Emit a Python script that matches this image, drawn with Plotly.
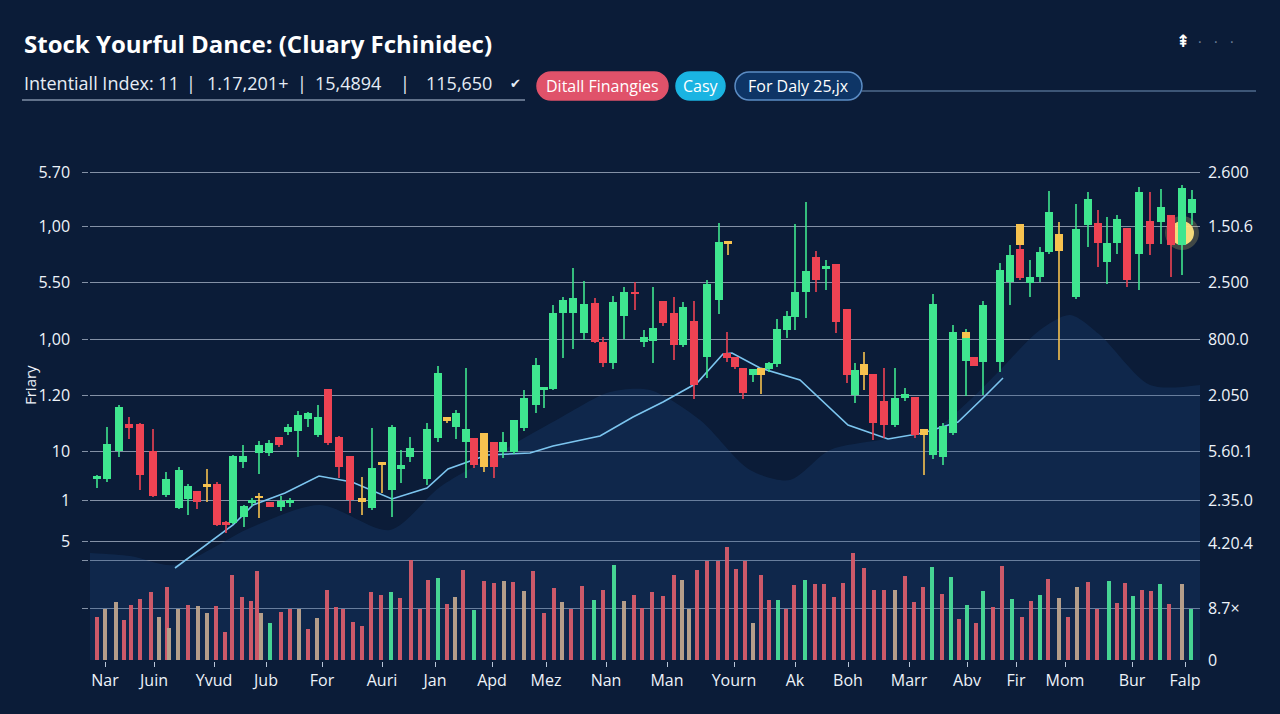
import plotly.graph_objects as go

# ---------------- data ----------------
candle_day = [0.7, 1.7, 2.9, 3.9, 5.0, 6.3, 7.6, 8.9, 9.8, 10.7,
              11.7, 12.7, 13.6, 14.3, 15.3, 15.4, 16.2, 16.9, 16.9, 17.9,
              18.0, 18.9, 19.1, 19.8, 20.0, 20.8, 21.8, 22.8, 23.8, 24.9,
              26.0, 27.2, 28.2, 29.2, 30.2, 31.1, 32.0, 33.7, 34.8, 35.7,
              36.6, 37.6, 38.4, 39.4, 40.4, 41.3, 42.4, 43.4, 44.6, 45.4,
              46.3, 47.3, 48.3, 49.4, 50.5, 51.3, 52.3, 53.4, 54.5, 55.4,
              56.3, 57.3, 58.4, 59.3, 60.4, 61.7, 62.9, 63.8, 63.7, 64.5,
              65.3, 66.3, 67.1, 67.9, 68.7, 69.7, 70.5, 71.6, 72.6, 73.6,
              74.6, 75.7, 76.5, 77.4, 78.3, 79.4, 80.5, 81.5, 82.5, 83.4,
              84.3, 85.3, 86.3, 87.6, 87.6, 88.4, 89.3, 91.0, 92.0, 93.0,
              93.0, 94.0, 95.0, 95.9, 96.9, 98.6, 99.8, 100.8, 101.7, 102.7,
              103.7, 104.9, 106.0, 107.1, 108.1, 109.2, 110.2]
candle_open = [181, 181, 209, 236, 236, 209, 165, 152, 161, 169,
               176, 176, 138, 137, 198, 143, 157, 207, 164, 207,
               158, 223, 153, 228, 157, 229, 241, 225, 271, 223,
               204, 162, 152, 198, 170, 191, 203, 181, 222, 243,
               233, 218, 222, 227, 218, 208, 208, 232, 255, 270,
               271, 347, 347, 327, 357, 318, 297, 344, 368, 318,
               319, 359, 347, 315, 339, 303, 360, 419, 307, 303,
               292, 285, 292, 291, 296, 330, 343, 368, 403, 391,
               396, 351, 265, 296, 286, 259, 235, 262, 263, 231,
               205, 203, 227, 299, 328, 303, 298, 298, 378, 436,
               411, 377, 383, 408, 426, 363, 435, 437, 398, 417,
               432, 406, 439, 438, 445, 415, 447]
candle_high = [185, 233, 255, 243, 237, 231, 188, 193, 176, 169,
               191, 178, 139, 205, 215, 155, 162, 219, 167, 220,
               158, 223, 164, 236, 162, 249, 248, 255, 271, 224,
               204, 183, 232, 198, 235, 210, 223, 237, 294, 243,
               250, 292, 222, 227, 218, 228, 240, 270, 302, 273,
               355, 363, 392, 379, 362, 323, 364, 373, 378, 330,
               373, 359, 363, 358, 359, 380, 437, 419, 328, 303,
               292, 291, 292, 298, 341, 349, 436, 458, 409, 400,
               396, 351, 297, 308, 286, 292, 292, 272, 263, 231,
               366, 237, 335, 331, 328, 303, 359, 397, 415, 436,
               415, 400, 413, 469, 438, 456, 468, 450, 443, 445,
               432, 473, 468, 471, 445, 475, 470]
candle_low = [172, 178, 203, 221, 170, 163, 163, 151, 145, 151,
              158, 134, 127, 136, 192, 133, 154, 186, 142, 204,
              153, 213, 149, 225, 153, 203, 233, 223, 215, 182,
              147, 145, 150, 167, 143, 177, 198, 175, 218, 237,
              221, 182, 192, 188, 182, 202, 206, 229, 247, 252,
              270, 302, 311, 320, 317, 293, 291, 321, 350, 313,
              297, 334, 300, 313, 261, 282, 346, 405, 298, 291,
              261, 278, 266, 288, 293, 322, 330, 342, 368, 370,
              327, 277, 257, 270, 220, 222, 233, 259, 222, 185,
              201, 195, 225, 264, 322, 294, 265, 288, 355, 415,
              380, 363, 378, 406, 300, 361, 413, 393, 376, 406,
              373, 370, 405, 416, 383, 385, 435]
candle_close = [184, 216, 253, 232, 185, 164, 181, 190, 174, 158,
                173, 135, 135, 204, 204, 154, 160, 215, 162, 217,
                153, 215, 159, 233, 160, 245, 247, 243, 217, 193,
                160, 158, 192, 195, 233, 195, 212, 231, 287, 239,
                247, 231, 195, 193, 193, 218, 240, 262, 295, 273,
                347, 360, 362, 356, 318, 297, 358, 368, 366, 323,
                332, 337, 315, 353, 275, 376, 418, 416, 302, 293,
                267, 291, 285, 297, 331, 344, 368, 389, 380, 394,
                338, 285, 290, 285, 237, 235, 262, 266, 225, 225,
                356, 234, 328, 322, 322, 294, 355, 390, 405, 415,
                382, 383, 408, 448, 409, 431, 461, 417, 417, 441,
                380, 468, 416, 453, 415, 472, 461]
candle_tone = list("gggrrrgggr" "yrrgggggyg" "rrggggggrr" "rygygggggy"
                   "ggryrggggg" "ggggrrggrg" "grrgrggyrr" "rgygggggrg"
                   "rrgyrrggry" "ggggyrgggy" "rgggyggrgg" "rgrgrgg")

vol_day = [0.7, 1.5, 2.6, 3.4, 4.1, 5.0, 6.1, 6.9, 7.7, 7.9,
           8.8, 9.8, 10.8, 11.7, 12.6, 13.5, 14.2, 15.2, 16.1, 16.7,
           17.1, 18.0, 19.1, 20.0, 20.9, 21.8, 22.7, 23.7, 24.6, 25.3,
           26.3, 27.2, 28.1, 29.1, 30.1, 31.0, 32.1, 33.0, 33.8, 34.8,
           35.7, 36.5, 37.3, 38.4, 39.4, 40.4, 41.4, 42.3, 43.4, 44.3,
           45.4, 46.4, 47.2, 48.1, 49.2, 50.4, 51.3, 52.4, 53.4, 54.4,
           55.2, 56.2, 57.3, 58.4, 59.2, 59.9, 60.7, 61.7, 62.8, 63.7,
           64.6, 65.5, 66.3, 67.1, 67.9, 68.8, 69.6, 70.4, 71.5, 72.5,
           73.4, 74.4, 75.3, 76.3, 77.4, 78.4, 79.4, 80.5, 81.5, 82.4,
           83.3, 84.2, 85.2, 86.1, 86.9, 87.7, 88.6, 89.3, 90.3, 91.2,
           92.2, 93.2, 94.1, 95.0, 95.8, 96.9, 97.8, 98.7, 99.8, 100.7,
           101.9, 102.7, 103.5, 104.3, 105.2, 106.1, 107.0, 107.9, 109.2, 110.1]
vol_value = [43, 51, 58, 40, 55, 61, 68, 43, 73, 32,
             51, 55, 54, 47, 54, 28, 85, 63, 59, 89,
             47, 37, 48, 51, 51, 31, 42, 70, 53, 51,
             38, 34, 68, 65, 68, 62, 100, 51, 80, 82,
             56, 63, 90, 50, 79, 77, 79, 78, 69, 89,
             47, 72, 58, 51, 74, 60, 70, 95, 59, 65,
             52, 68, 64, 85, 80, 51, 90, 99, 99, 113,
             91, 99, 37, 85, 60, 60, 51, 75, 80, 76,
             76, 63, 77, 107, 92, 70, 70, 70, 84, 58,
             73, 93, 66, 83, 41, 55, 37, 69, 53, 94,
             61, 43, 59, 65, 81, 62, 43, 73, 78, 51,
             79, 57, 77, 64, 70, 69, 76, 56, 76, 51]
vol_tone = list("RTTRRRRTRT" "TRTTRRRRRR" "TGRRTRTRRR" "RRRRGRRRRG"
                "RTRGRRTRTR" "RRTRRGRGTR" "RRRRTTRRRR" "RRTRRGRRGR"
                "RRRRRRRTRR" "RGRGRGRGRR" "GRRGRTRTRR" "GRRGRRGRTG")

ma_day = [8.5, 14.3, 16.3, 19.5, 22.9, 26.2, 30.2, 33.7, 35.8, 39.7, 44.0, 46.3, 51.0,
          54.3, 57.3, 60.7, 63.3, 64.2, 67.0, 71.0, 75.8, 79.8, 83.3, 86.8, 89.3, 91.3]
ma_value = [92, 135, 155, 167, 184, 178, 161, 172, 191, 205, 207, 214, 224,
            243, 258, 277, 306, 307, 292, 280, 235, 221, 227, 238, 262, 282]

area_day = [0, 4, 8.5, 16, 23, 30, 35, 41, 47, 52, 56, 61, 66, 70, 74, 79, 84, 88,
            91, 95, 98, 101, 106, 111]
area_value = [107, 104, 95, 132, 155, 130, 173, 208, 242, 268, 270, 240, 190, 180, 210,
              220, 228, 260, 290, 330, 345, 325, 275, 275]

highlight_day = [109.2]
highlight_value = [427]

x_tick_day = [1.5, 6.4, 12.4, 17.6, 23.2, 29.2, 34.5, 40.2, 45.6, 51.6,
              57.7, 64.4, 70.5, 75.8, 81.9, 87.7, 92.6, 97.5, 104.2, 109.5]
x_tick_label = ["Nar", "Juin", "Yvud", "Jub", "For", "Auri", "Jan", "Apd", "Mez", "Nan",
                "Man", "Yourn", "Ak", "Boh", "Marr", "Abv", "Fir", "Mom", "Bur", "Falp"]
left_tick_val = [488, 434, 378, 321, 265, 209, 160, 119, 100, 52]
left_tick_text = ["5.70", "1,00", "5.50", "1,00", "1.20", "10", "1", "5", "", ""]
right_tick_val = [488, 434, 378, 321, 265, 209, 160, 117, 52, 0]
right_tick_text = ["2.600", "1.50.6", "2.500", "800.0", "2.050", "5.60.1", "2.35.0",
                   "4.20.4", "8.7\u00d7", "0"]

title_text = "Stock Yourful Dance: (Cluary Fchinidec)"
sub_parts = ["Intentiall Index: 11", "|", "1.17,201+", "|", "15,4894", "|", "115,650", "\u2714"]
pill_labels = ["Ditall Finangies", "Casy", "For Daly 25,jx"]

# ---------------- layout helpers ----------------
W, H = 1280, 714
ML, MR, MT, MB = 90, 80, 160, 54
PW, PH = W - ML - MR, H - MT - MB
FONT = "Open Sans"


def fx(px):
    return (px - ML) / PW


def fy(py):
    return (H - MB - py) / PH


TONE = {"g": "#3fe68f", "r": "#ee4353", "y": "#f7c24f"}
VTONE = {"R": "#d75c6b", "T": "#bda58e", "G": "#49de98"}
GRID = "rgba(206,218,234,0.62)"
AXIS = "#b9c5d8"

fig = go.Figure()

# background mountain area
fig.add_trace(go.Scatter(x=area_day, y=area_value, mode="lines",
                         line=dict(width=0, shape="spline", smoothing=0.8),
                         fill="tozeroy", fillcolor="rgba(26,74,132,0.26)",
                         hoverinfo="skip", showlegend=False, zorder=-5))

# volume bars
fig.add_trace(go.Bar(x=vol_day, y=vol_value, width=0.42,
                     marker=dict(color=[VTONE[t] for t in vol_tone], line=dict(width=0)),
                     opacity=0.95, showlegend=False, zorder=0))

# moving average
fig.add_trace(go.Scatter(x=ma_day, y=ma_value, mode="lines",
                         line=dict(color="#7cc5ef", width=1.6),
                         showlegend=False, zorder=1))

# candle wicks
for t in "gry":
    xs, ys = [], []
    for d, hi, lo, tt in zip(candle_day, candle_high, candle_low, candle_tone):
        if tt == t:
            xs += [d, d, None]
            ys += [lo, hi, None]
    fig.add_trace(go.Scatter(x=xs, y=ys, mode="lines",
                             line=dict(color=TONE[t], width=1.6),
                             showlegend=False, hoverinfo="skip", zorder=2))

# candle bodies
body_base = [min(o, c) for o, c in zip(candle_open, candle_close)]
body_len = [max(abs(c - o), 2.5) for o, c in zip(candle_open, candle_close)]
fig.add_trace(go.Bar(x=candle_day, y=body_len, base=body_base, width=0.72,
                     marker=dict(color=[TONE[t] for t in candle_tone], line=dict(width=0)),
                     showlegend=False, zorder=3))

# highlight dot (on right axis, same scale)
fig.add_trace(go.Scatter(x=highlight_day, y=highlight_value, yaxis="y2", mode="markers",
                         marker=dict(size=34, color="rgba(255,228,125,0.22)"),
                         showlegend=False, hoverinfo="skip"))
fig.add_trace(go.Scatter(x=highlight_day, y=highlight_value, yaxis="y2", mode="markers",
                         marker=dict(size=24, color="#ffe37e", opacity=0.95),
                         showlegend=False))

tickfont = dict(family=FONT, size=16, color="#eef3fa")

fig.update_layout(
    width=W, height=H,
    margin=dict(l=ML, r=MR, t=MT, b=MB),
    paper_bgcolor="#0b1c38",
    plot_bgcolor="rgba(0,0,0,0)",
    barmode="overlay",
    bargap=0,
    font=dict(family=FONT, color="#eef3fa"),
    showlegend=False,
    xaxis=dict(range=[0, 111], tickmode="array", tickvals=x_tick_day, ticktext=x_tick_label,
               showgrid=False, zeroline=False, showline=True, linecolor=AXIS, linewidth=1.5,
               ticks="outside", ticklen=5, tickcolor=AXIS, tickfont=tickfont),
    yaxis=dict(range=[0, 500], tickmode="array", tickvals=left_tick_val, ticktext=left_tick_text,
               showgrid=True, gridcolor=GRID, gridwidth=1.4, zeroline=False,
               showline=True, linecolor=AXIS, linewidth=1.5,
               ticks="outside", ticklen=6, tickcolor=GRID, ticklabelstandoff=9,
               tickfont=tickfont),
    yaxis2=dict(range=[0, 500], overlaying="y", side="right", tickmode="array",
                tickvals=right_tick_val, ticktext=right_tick_text,
                showgrid=False, zeroline=False, showline=True, linecolor=AXIS, linewidth=1.5,
                ticks="", ticklabelstandoff=3, tickfont=tickfont),
)

ann = []
# title
ann.append(dict(x=fx(22), y=fy(43), xref="paper", yref="paper", xanchor="left", yanchor="middle",
                text="<b>" + title_text + "</b>", showarrow=False,
                font=dict(family=FONT, size=24, color="#ffffff")))
# subtitle pieces
sub_x = [22, 191, 205, 302, 313, 405, 424, 515]
for txt, xx in zip(sub_parts, sub_x):
    is_bar = txt in ("|", "\u2714")
    ann.append(dict(x=fx(xx), y=fy(83), xref="paper", yref="paper",
                    xanchor="center" if is_bar else "left", yanchor="middle",
                    text=txt, showarrow=False,
                    font=dict(family=FONT, size=13 if txt == "\u2714" else 18,
                              color="#e6ecf5")))

# pills
pill_x = [(537, 668), (676, 725), (735, 862)]
pill_fill = ["#e0526a", "#1ab4e2", "#0e3566"]
pill_line = ["#e0526a", "#1ab4e2", "#5b8cc4"]
shapes = []
K = 0.5523


def pill_path(x0, x1, y0, y1):
    r = (y1 - y0) / 2.0
    ym = (y0 + y1) / 2.0
    pts = [
        ("M", [(x0 + r, y0)]),
        ("L", [(x1 - r, y0)]),
        ("C", [(x1 - r + K * r, y0), (x1, ym - K * r), (x1, ym)]),
        ("C", [(x1, ym + K * r), (x1 - r + K * r, y1), (x1 - r, y1)]),
        ("L", [(x0 + r, y1)]),
        ("C", [(x0 + r - K * r, y1), (x0, ym + K * r), (x0, ym)]),
        ("C", [(x0, ym - K * r), (x0 + r - K * r, y0), (x0 + r, y0)]),
    ]
    s = ""
    for cmd, ps in pts:
        s += cmd + " " + " ".join("%.5f,%.5f" % (fx(a), fy(b)) for a, b in ps) + " "
    return s + "Z"


for (x0, x1), fc, lc, lab in zip(pill_x, pill_fill, pill_line, pill_labels):
    shapes.append(dict(type="path", xref="paper", yref="paper", path=pill_path(x0, x1, 72, 100),
                       fillcolor=fc, line=dict(color=lc, width=1.5), layer="above"))
    ann.append(dict(x=fx((x0 + x1) / 2), y=fy(86), xref="paper", yref="paper",
                    xanchor="center", yanchor="middle", text=lab, showarrow=False,
                    font=dict(family=FONT, size=16, color="#ffffff")))

# header rules
shapes.append(dict(type="line", xref="paper", yref="paper", x0=fx(22), x1=fx(525),
                   y0=fy(100), y1=fy(100), line=dict(color="#7f8ea6", width=1.5)))
shapes.append(dict(type="line", xref="paper", yref="paper", x0=fx(862), x1=fx(1256),
                   y0=fy(91), y1=fy(91), line=dict(color="#4f6a8c", width=1.5)))

# top-right icon and dots
ann.append(dict(x=fx(1183), y=fy(41), xref="paper", yref="paper", xanchor="center",
                yanchor="middle", text="<b>\u21de</b>",
                showarrow=False, font=dict(family="DejaVu Sans", size=17, color="#ffffff")))
for dx in (1200, 1216, 1232):
    ann.append(dict(x=fx(dx), y=fy(41), xref="paper", yref="paper", xanchor="center",
                    yanchor="middle", text="\u00b7",
                    showarrow=False, font=dict(family=FONT, size=14, color="#6f819c")))

# y-axis title
ann.append(dict(x=fx(30), y=fy(385), xref="paper", yref="paper", xanchor="center",
                yanchor="middle", text="Friary", textangle=-90,
                showarrow=False, font=dict(family=FONT, size=15, color="#eef3fa")))

fig.update_layout(annotations=ann, shapes=shapes)

fig.write_html("out.html", config={"displayModeBar": False},
               post_script="document.body.style.margin='0';document.body.style.overflow='hidden';")
